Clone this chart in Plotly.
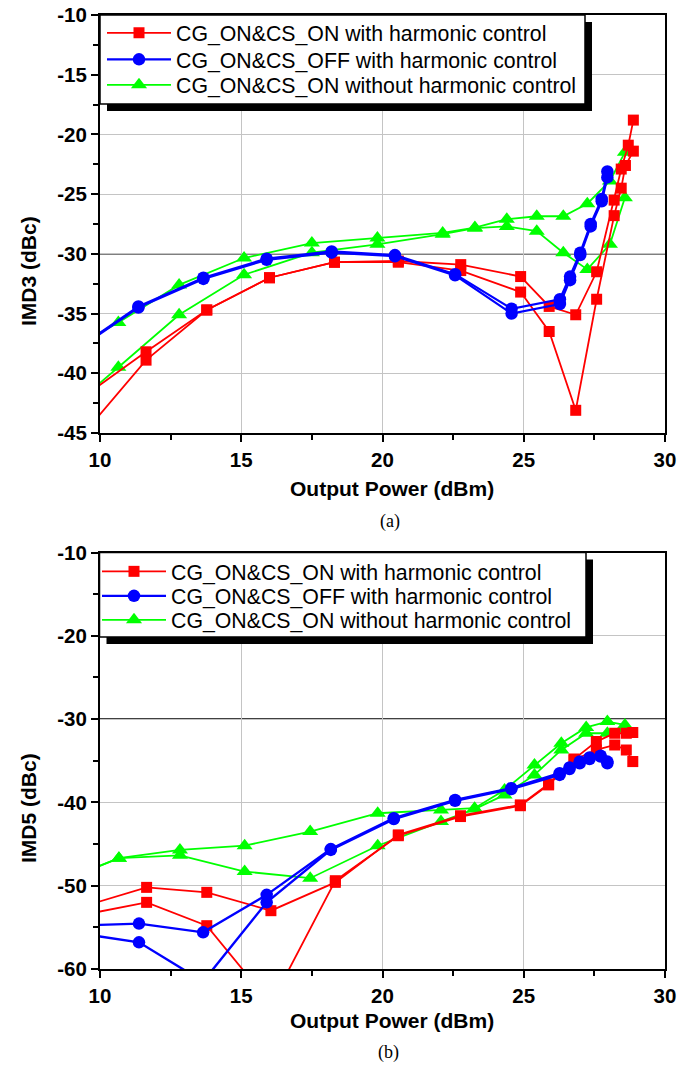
import plotly.graph_objects as go

# ---------------- data ----------------
NAMES = ["CG_ON&CS_ON with harmonic control",
         "CG_ON&CS_OFF with harmonic control",
         "CG_ON&CS_ON without harmonic control"]

# IMD3 (top panel) - each series has two branches (lower / upper sideband)
imd3_red_x_a = [9.4, 11.63, 13.78, 16.0, 18.3, 20.56, 22.77, 24.89, 25.9, 26.84, 27.58, 28.2, 28.45, 28.7, 28.88]
imd3_red_y_a = [-42.0, -38.2, -34.7, -32.0, -30.7, -30.6, -30.9, -31.9, -34.4, -35.1, -31.5, -25.5, -22.9, -20.9, -18.8]
imd3_red_x_b = [9.4, 11.63, 13.78, 16.0, 18.3, 20.56, 22.77, 24.89, 25.9, 26.84, 27.58, 28.2, 28.45, 28.6, 28.88]
imd3_red_y_b = [-45.1, -38.9, -34.7, -32.0, -30.7, -30.7, -31.4, -33.2, -36.5, -43.1, -33.8, -26.8, -24.5, -22.6, -21.4]

imd3_blue_x = [9.2, 11.36, 13.66, 15.9, 18.2, 20.44, 22.57, 24.57, 26.28, 26.64, 27.0, 27.37, 27.76, 27.96]
imd3_blue_y_a = [-37.9, -34.4, -32.0, -30.4, -29.8, -30.1, -31.7, -34.6, -33.8, -31.9, -29.9, -27.5, -25.4, -23.1]
imd3_blue_y_b = [-38.0, -34.5, -32.1, -30.5, -29.9, -30.2, -31.8, -35.0, -34.2, -32.2, -30.1, -27.7, -25.6, -23.6]

imd3_green_x = [8.5, 10.65, 12.8, 15.1, 17.5, 19.82, 22.13, 23.27, 24.4, 25.46, 26.4, 27.25, 28.05, 28.58]
imd3_green_y_a = [-38.6, -35.75, -32.6, -30.35, -29.1, -28.67, -28.25, -27.8, -27.1, -26.85, -26.85, -25.8, -23.9, -21.5]
imd3_green_y_b = [-43.8, -39.5, -35.1, -31.75, -29.9, -29.2, -28.35, -27.85, -27.7, -28.1, -29.9, -31.3, -29.2, -25.3]

# IMD5 (bottom panel)
imd5_red_x = [9.4, 11.65, 13.78, 16.05, 18.33, 20.56, 22.76, 24.88, 25.88, 26.78, 27.57, 28.22, 28.63, 28.86]
imd5_red_y_a = [-52.5, -50.2, -50.8, -53.0, -49.6, -43.9, -41.6, -40.3, -37.8, -34.8, -32.7, -31.7, -31.7, -31.6]
imd5_red_y_b = [-53.5, -52.0, -54.8, -64.2, -49.4, -44.0, -41.7, -40.4, -37.9, -34.9, -33.7, -33.1, -33.7, -35.1]

imd5_blue_x = [9.2, 11.38, 13.65, 15.9, 18.17, 20.4, 22.57, 24.56, 26.27, 26.62, 26.98, 27.33, 27.72, 27.96]
imd5_blue_y_a = [-54.8, -54.55, -55.6, -51.1, -45.6, -41.9, -39.7, -38.3, -36.5, -35.8, -35.1, -34.6, -34.4, -35.1]
imd5_blue_y_b = [-55.7, -56.8, -61.5, -52.0, -45.7, -42.0, -39.8, -38.4, -36.7, -36.0, -35.3, -34.8, -34.5, -35.3]

imd5_green_x = [8.5, 10.67, 12.83, 15.12, 17.44, 19.83, 22.07, 23.26, 24.32, 25.38, 26.33, 27.21, 27.96, 28.58]
imd5_green_y_a = [-49.6, -46.7, -45.7, -45.2, -43.5, -41.3, -40.9, -40.7, -38.5, -35.5, -32.9, -31.0, -30.3, -30.7]
imd5_green_y_b = [-49.6, -46.7, -46.35, -48.3, -49.1, -45.2, -42.3, -40.8, -39.1, -36.7, -33.7, -31.7, -31.7, -31.2]

REF_LEVEL = -30

x_tickvals = [10, 15, 20, 25, 30]
x_ticktext = ["10", "15", "20", "25", "30"]
y3_tickvals = [-10, -15, -20, -25, -30, -35, -40, -45]
y3_ticktext = ["-10", "-15", "-20", "-25", "-30", "-35", "-40", "-45"]
y5_tickvals = [-10, -20, -30, -40, -50, -60]
y5_ticktext = ["-10", "-20", "-30", "-40", "-50", "-60"]

# ---------------- layout helpers ----------------
W, H = 691, 1070
ML, MR, MT, MB = 100, 26, 15, 101
PW = W - ML - MR
PH = H - MT - MB


def pxx(x):
    return (x - ML) / PW


def pxy(y):
    return (H - MB - y) / PH


RED, BLUE, GREEN = "#FF0000", "#0000FF", "#00FF00"
FONT = "Liberation Sans, Arial, sans-serif"

fig = go.Figure()


def add(x, y, color, symbol, size, width, name, show, xa, ya, leg):
    fig.add_trace(go.Scatter(
        x=x, y=y, mode="lines+markers", name=name, showlegend=show,
        line=dict(color=color, width=width),
        marker=dict(color=color, symbol=symbol, size=size, line=dict(width=0)),
        xaxis=xa, yaxis=ya, legend=leg,
    ))


# top panel (draw order: green, red, blue); each series has its own legend row
add(imd3_green_x, imd3_green_y_a, GREEN, "triangle-up", 14, 1.8, NAMES[2], True, "x", "y", "legend3")
add(imd3_green_x, imd3_green_y_b, GREEN, "triangle-up", 14, 1.8, NAMES[2], False, "x", "y", "legend3")
add(imd3_red_x_a, imd3_red_y_a, RED, "square", 11, 1.8, NAMES[0], True, "x", "y", "legend")
add(imd3_red_x_b, imd3_red_y_b, RED, "square", 11, 1.8, NAMES[0], False, "x", "y", "legend")
add(imd3_blue_x, imd3_blue_y_a, BLUE, "circle", 12.5, 2.2, NAMES[1], True, "x", "y", "legend2")
add(imd3_blue_x, imd3_blue_y_b, BLUE, "circle", 12.5, 2.2, NAMES[1], False, "x", "y", "legend2")

# bottom panel
add(imd5_green_x, imd5_green_y_a, GREEN, "triangle-up", 14, 1.8, NAMES[2], True, "x2", "y2", "legend6")
add(imd5_green_x, imd5_green_y_b, GREEN, "triangle-up", 14, 1.8, NAMES[2], False, "x2", "y2", "legend6")
add(imd5_red_x, imd5_red_y_a, RED, "square", 11, 1.8, NAMES[0], True, "x2", "y2", "legend4")
add(imd5_red_x, imd5_red_y_b, RED, "square", 11, 1.8, NAMES[0], False, "x2", "y2", "legend4")
add(imd5_blue_x, imd5_blue_y_a, BLUE, "circle", 12.5, 2.4, NAMES[1], True, "x2", "y2", "legend5")
add(imd5_blue_x, imd5_blue_y_b, BLUE, "circle", 12.5, 2.4, NAMES[1], False, "x2", "y2", "legend5")

tickfont = dict(family=FONT, size=20.5, color="black", weight="bold")


def xaxis_cfg(anchor):
    return dict(
        range=[10, 30], anchor=anchor, domain=[0, 1], automargin=False,
        tickvals=x_tickvals, ticktext=x_ticktext, tickfont=tickfont,
        ticks="outside", ticklen=7, tickwidth=2, tickcolor="black",
        minor=dict(dtick=2.5, tick0=10, ticks="outside", ticklen=5, tickwidth=2,
                   tickcolor="black", showgrid=False),
        showgrid=True, gridcolor="#c4c4c4", gridwidth=1,
        showline=True, linecolor="black", linewidth=2, mirror=True,
        zeroline=False,
    )


def yaxis_cfg(anchor, rng, tv, tt, minor_dtick, dom):
    return dict(
        range=rng, anchor=anchor, domain=dom, automargin=False,
        tickvals=tv, ticktext=tt, tickfont=tickfont,
        ticks="outside", ticklen=7, tickwidth=2, tickcolor="black",
        minor=dict(dtick=minor_dtick, tick0=-10, ticks="outside", ticklen=5, tickwidth=2,
                   tickcolor="black", showgrid=False),
        showgrid=True, gridcolor="#c4c4c4", gridwidth=1,
        showline=True, linecolor="black", linewidth=2, mirror=True,
        zeroline=False,
    )


top_dom = [pxy(433), 1.0]
bot_dom = [0.0, pxy(552.5)]

legend_common = dict(
    font=dict(family=FONT, size=21.3, color="black"),
    bgcolor="rgba(0,0,0,0)", borderwidth=0,
    xanchor="left", yanchor="middle",
    itemwidth=64,
)
# row centres (pixels) of the legend entries
top_rows = [33, 59.5, 85]
bot_rows = [571.5, 596, 620]

legends = {}
for i, yc in enumerate(top_rows + bot_rows):
    key = "legend" if i == 0 else "legend%d" % (i + 1)
    left = 102 if i < 3 else 97
    legends[key] = dict(x=pxx(left), y=pxy(yc), **legend_common)

shapes = []
# legend frames with drop shadows
for (bx0, by0, bx1, by1) in ((100, 15, 585, 104), (99.5, 552.5, 586, 637)):
    shapes.append(dict(type="rect", xref="paper", yref="paper",
                       x0=pxx(bx0 + 7), x1=pxx(bx1 + 7), y0=pxy(by1 + 7), y1=pxy(by0 + 7),
                       fillcolor="black", line=dict(width=0), layer="above"))
    shapes.append(dict(type="rect", xref="paper", yref="paper",
                       x0=pxx(bx0), x1=pxx(bx1), y0=pxy(by1), y1=pxy(by0),
                       fillcolor="white", line=dict(color="black", width=1.5), layer="above"))
# -30 dBc reference lines
for xr, yr in (("x domain", "y"), ("x2 domain", "y2")):
    shapes.append(dict(type="line", xref=xr, yref=yr, x0=0, x1=1, y0=REF_LEVEL, y1=REF_LEVEL,
                       line=dict(color="black", width=1.5), layer="below"))

title_font = dict(family=FONT, size=21, color="black", weight="bold")
cap_font = dict(family="Liberation Serif, Times New Roman, serif", size=18, color="black")
annotations = [
    dict(text="Output Power (dBm)", x=pxx(392), y=pxy(488), xref="paper", yref="paper",
         showarrow=False, font=title_font, xanchor="center", yanchor="middle"),
    dict(text="Output Power (dBm)", x=pxx(392), y=pxy(1020), xref="paper", yref="paper",
         showarrow=False, font=title_font, xanchor="center", yanchor="middle"),
    dict(text="IMD3 (dBc)", x=pxx(28), y=pxy(271), xref="paper", yref="paper", textangle=-90,
         showarrow=False, font=title_font, xanchor="center", yanchor="middle"),
    dict(text="IMD5 (dBc)", x=pxx(28), y=pxy(808), xref="paper", yref="paper", textangle=-90,
         showarrow=False, font=title_font, xanchor="center", yanchor="middle"),
    dict(text="(a)", x=pxx(390), y=pxy(521), xref="paper", yref="paper",
         showarrow=False, font=cap_font, xanchor="center", yanchor="middle"),
    dict(text="(b)", x=pxx(388), y=pxy(1052), xref="paper", yref="paper",
         showarrow=False, font=cap_font, xanchor="center", yanchor="middle"),
]

fig.update_layout(
    width=W, height=H,
    margin=dict(l=ML, r=MR, t=MT, b=MB, pad=0, autoexpand=False),
    paper_bgcolor="white", plot_bgcolor="white",
    font=dict(family=FONT, color="black"),
    xaxis=xaxis_cfg("y"),
    yaxis=yaxis_cfg("x", [-45, -10], y3_tickvals, y3_ticktext, 2.5, top_dom),
    xaxis2=xaxis_cfg("y2"),
    yaxis2=yaxis_cfg("x2", [-60, -10], y5_tickvals, y5_ticktext, 5, bot_dom),
    shapes=shapes,
    annotations=annotations,
    **legends,
)

fig.write_html("out.html")
